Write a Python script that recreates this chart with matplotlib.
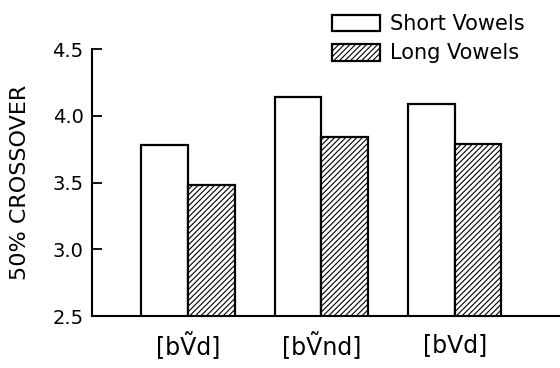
import numpy as np
import matplotlib
matplotlib.use("Agg")
import matplotlib.pyplot as plt

##### Data #####
contexts = ["[b\u1e7cd]", "[b\u1e7cnd]", "[bVd]"]
short_vowels = [3.78, 4.14, 4.09]
long_vowels = [3.48, 3.84, 3.79]
y_ticks = [2.5, 3.0, 3.5, 4.0, 4.5]

plt.rcParams['hatch.linewidth'] = 0.8
plt.rcParams['font.family'] = ['DejaVu Sans']

fig = plt.figure(figsize=(5.6, 3.68), dpi=100)
ax = fig.add_axes([0.1643, 0.1413, 0.8357, 0.7255])

x = np.arange(len(contexts))
w = 0.35
ax.bar(x - w/2, short_vowels, w, color="white", edgecolor="black",
       linewidth=1.6, label="Short Vowels")
ax.bar(x + w/2, long_vowels, w, color="white", edgecolor="black",
       linewidth=1.6, hatch="//////", label="Long Vowels")

ax.set_ylim(2.5, 4.5)
ax.set_xlim(-0.72, 2.79)
ax.set_yticks(y_ticks)
ax.set_yticklabels([f"{t:.1f}" for t in y_ticks], fontsize=14)
ax.tick_params(axis="y", direction="in", length=7, width=1.3, pad=6)
ax.set_xticks(x)
ax.set_xticklabels(contexts, fontsize=17)
ax.tick_params(axis="x", length=0, pad=12)
ax.set_ylabel("50% CROSSOVER", fontsize=16, labelpad=16)

for s in ["top", "right"]:
    ax.spines[s].set_visible(False)
ax.spines["left"].set_linewidth(1.5)
ax.spines["bottom"].set_linewidth(1.5)

leg = ax.legend(loc="upper left", bbox_to_anchor=(0.49, 1.17), frameon=False,
                fontsize=15, handlelength=2.3, handleheight=0.85,
                handletextpad=0.5, labelspacing=0.45, borderpad=0)

fig.savefig("out.png", dpi=100)
